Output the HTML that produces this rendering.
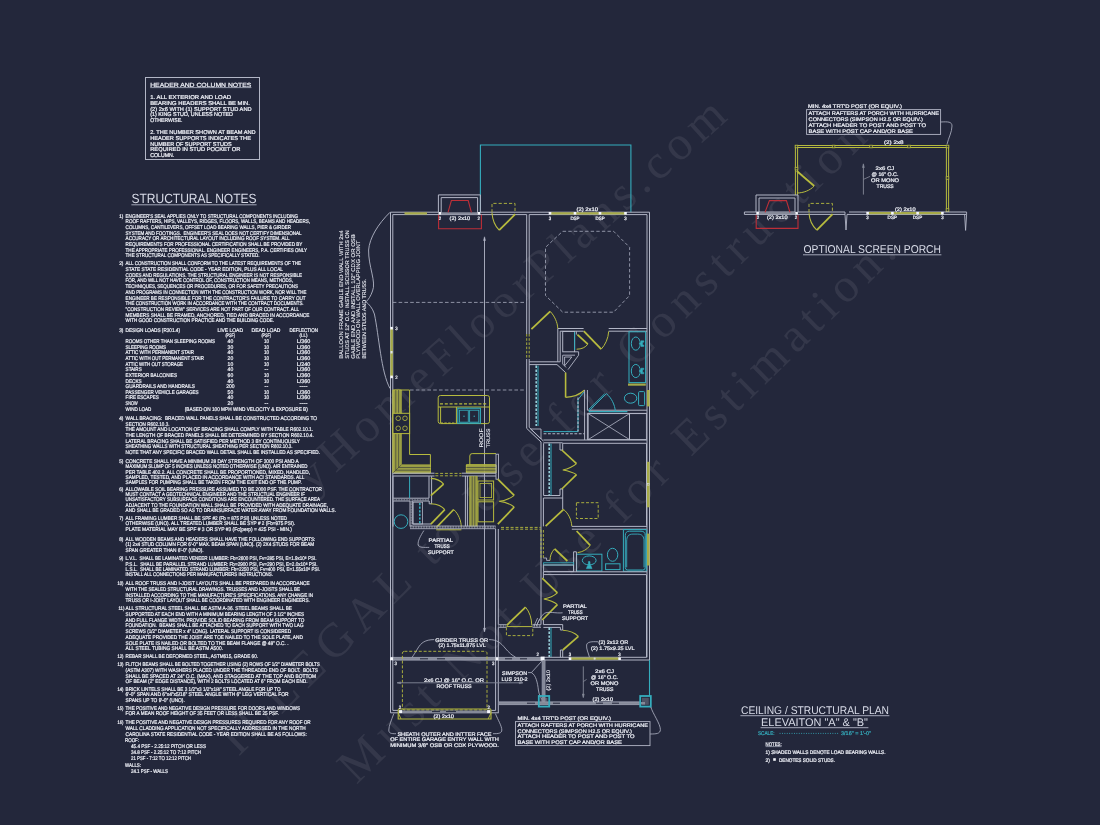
<!DOCTYPE html>
<html lang="en"><head><meta charset="utf-8"><title>Ceiling / Structural Plan</title>
<style>
html,body{margin:0;padding:0;background:#23273b;}
body{width:1100px;height:825px;overflow:hidden;}
svg{display:block;will-change:transform;filter:grayscale(0);}
svg text{font-family:"Liberation Sans",sans-serif;fill:#eef0f7;white-space:pre;text-rendering:geometricPrecision;stroke:#eef0f7;stroke-width:0.22px;}
svg .rot{stroke-width:0.1px;}
svg .big{stroke:none;fill:#d9dce8;}
svg .wm{font-family:"Liberation Serif",serif;fill:#ffffff;stroke:none;}
</style></head><body>
<svg width="1100" height="825" viewBox="0 0 1100 825" fill="none" stroke-linecap="butt">
<rect x="0" y="0" width="1100" height="825" fill="#23273b" stroke="none"/>
<text class="wm" transform="translate(276.3 526.8) rotate(-42.04)" font-size="48" letter-spacing="6.46" fill-opacity="0.078">MyHomeFloorPlans.com</text>
<text class="wm" transform="translate(238.4 756.9) rotate(-44.39)" font-size="48" letter-spacing="7.26" fill-opacity="0.078">ILLEGAL to Use for Construction</text>
<text class="wm" transform="translate(356.5 785) rotate(-44.4)" font-size="48" letter-spacing="7.0" fill-opacity="0.078">Must Not Use for Estimation.</text>
<rect x="145.5" y="77.5" width="114.0" height="82.0" stroke="#b2b6c6" stroke-width="1" fill="none"/>
<text x="150.2" y="87.0" font-size="6" textLength="101.2" lengthAdjust="spacingAndGlyphs">HEADER AND COLUMN NOTES</text>
<line x1="150.2" y1="87.6" x2="251.4" y2="87.6" stroke="#b2b6c6" stroke-width="0.8"/>
<text x="150.2" y="98.9" font-size="5.6" textLength="80.8" lengthAdjust="spacingAndGlyphs">1. ALL EXTERIOR AND LOAD</text>
<text x="150.2" y="104.7" font-size="5.6" textLength="99.8" lengthAdjust="spacingAndGlyphs">BEARING HEADERS SHALL BE MIN.</text>
<text x="150.2" y="110.6" font-size="5.6" textLength="101.4" lengthAdjust="spacingAndGlyphs">(2) 2x6 WITH (1) SUPPORT STUD AND</text>
<text x="150.2" y="116.3" font-size="5.6" textLength="82.8" lengthAdjust="spacingAndGlyphs">(1) KING STUD, UNLESS NOTED</text>
<text x="150.2" y="122.2" font-size="5.6" textLength="32.3" lengthAdjust="spacingAndGlyphs">OTHERWISE.</text>
<text x="150.2" y="134.0" font-size="5.6" textLength="105.5" lengthAdjust="spacingAndGlyphs">2. THE NUMBER SHOWN AT BEAM AND</text>
<text x="150.2" y="139.8" font-size="5.6" textLength="100.8" lengthAdjust="spacingAndGlyphs">HEADER SUPPORTS INDICATES THE</text>
<text x="150.2" y="145.6" font-size="5.6" textLength="81.4" lengthAdjust="spacingAndGlyphs">NUMBER OF SUPPORT STUDS</text>
<text x="150.2" y="151.4" font-size="5.6" textLength="90.3" lengthAdjust="spacingAndGlyphs">REQUIRED IN STUD POCKET OR</text>
<text x="150.2" y="157.2" font-size="5.6" textLength="24.1" lengthAdjust="spacingAndGlyphs">COLUMN.</text>
<text x="131.4" y="203.0" font-size="13.4" textLength="125.2" lengthAdjust="spacingAndGlyphs" class="big">STRUCTURAL NOTES</text>
<line x1="131.4" y1="204.8" x2="256.6" y2="204.8" stroke="#b2b6c6" stroke-width="0.9"/>
<text x="119.2" y="217.5" font-size="5.2" textLength="4.2" lengthAdjust="spacingAndGlyphs">1)</text>
<text x="125.6" y="217.5" font-size="5.4" textLength="172.4" lengthAdjust="spacingAndGlyphs">ENGINEER'S SEAL APPLIES ONLY TO STRUCTURAL COMPONENTS INCLUDING</text>
<text x="125.6" y="223.2" font-size="5.4" textLength="184.4" lengthAdjust="spacingAndGlyphs">ROOF RAFTERS, HIPS, VALLEYS, RIDGES, FLOORS, WALLS, BEAMS AND HEADERS,</text>
<text x="125.6" y="228.9" font-size="5.4" textLength="165.4" lengthAdjust="spacingAndGlyphs">COLUMNS, CANTILEVERS, OFFSET LOAD BEARING WALLS, PIER &amp; GIRDER</text>
<text x="125.6" y="234.6" font-size="5.4" textLength="176.0" lengthAdjust="spacingAndGlyphs">SYSTEM AND FOOTINGS.  ENGINEER'S SEAL DOES NOT CERTIFY DIMENSIONAL</text>
<text x="125.6" y="240.3" font-size="5.4" textLength="164.0" lengthAdjust="spacingAndGlyphs">ACCURACY OR ARCHITECTURAL LAYOUT INCLUDING ROOF SYSTEM. ALL</text>
<text x="125.6" y="246.0" font-size="5.4" textLength="176.8" lengthAdjust="spacingAndGlyphs">REQUIREMENTS FOR PROFESSIONAL CERTIFICATION SHALL BE PROVIDED BY</text>
<text x="125.6" y="251.7" font-size="5.4" textLength="181.4" lengthAdjust="spacingAndGlyphs">THE APPROPRIATE PROFESSIONAL. ENGINEER ENGINEERS, P.A. CERTIFIES ONLY</text>
<text x="125.6" y="257.4" font-size="5.4" textLength="134.0" lengthAdjust="spacingAndGlyphs">THE STRUCTURAL COMPONENTS AS SPECIFICALLY STATED.</text>
<text x="119.2" y="265.3" font-size="5.2" textLength="4.2" lengthAdjust="spacingAndGlyphs">2)</text>
<text x="125.6" y="265.3" font-size="5.4" textLength="175.4" lengthAdjust="spacingAndGlyphs">ALL CONSTRUCTION SHALL CONFORM TO THE LATEST REQUIREMENTS OF THE</text>
<text x="125.6" y="271.0" font-size="5.4" textLength="157.4" lengthAdjust="spacingAndGlyphs">STATE STATE RESIDENTIAL CODE - YEAR EDITION, PLUS ALL LOCAL</text>
<text x="125.6" y="276.7" font-size="5.4" textLength="176.4" lengthAdjust="spacingAndGlyphs">CODES AND REGULATIONS. THE STRUCTURAL ENGINEER IS NOT RESPONSIBLE</text>
<text x="125.6" y="282.4" font-size="5.4" textLength="167.4" lengthAdjust="spacingAndGlyphs">FOR, AND WILL NOT HAVE CONTROL OF, CONSTRUCTION MEANS, METHODS,</text>
<text x="125.6" y="288.1" font-size="5.4" textLength="172.4" lengthAdjust="spacingAndGlyphs">TECHNIQUES, SEQUENCES OR PROCEDURES, OR FOR SAFETY PRECAUTIONS</text>
<text x="125.6" y="293.8" font-size="5.4" textLength="180.8" lengthAdjust="spacingAndGlyphs">AND PROGRAMS IN CONNECTION WITH THE CONSTRUCTION WORK, NOR WILL THE</text>
<text x="125.6" y="299.5" font-size="5.4" textLength="180.0" lengthAdjust="spacingAndGlyphs">ENGINEER BE RESPONSIBLE FOR THE CONTRACTOR'S FAILURE TO CARRY OUT</text>
<text x="125.6" y="305.2" font-size="5.4" textLength="178.0" lengthAdjust="spacingAndGlyphs">THE CONSTRUCTION WORK IN ACCORDANCE WITH THE CONTRACT DOCUMENTS.</text>
<text x="125.6" y="310.9" font-size="5.4" textLength="173.4" lengthAdjust="spacingAndGlyphs">"CONSTRUCTION REVIEW" SERVICES ARE NOT PART OF OUR CONTRACT. ALL</text>
<text x="125.6" y="316.6" font-size="5.4" textLength="183.8" lengthAdjust="spacingAndGlyphs">MEMBERS SHALL BE FRAMED, ANCHORED, TIED AND BRACED IN ACCORDANCE</text>
<text x="125.6" y="322.4" font-size="5.4" textLength="148.4" lengthAdjust="spacingAndGlyphs">WITH GOOD CONSTRUCTION PRACTICE AND THE BUILDING CODE.</text>
<text x="119.2" y="331.5" font-size="5.2" textLength="4.2" lengthAdjust="spacingAndGlyphs">3)</text>
<text x="125.6" y="331.5" font-size="5.4" textLength="54.4" lengthAdjust="spacingAndGlyphs">DESIGN LOADS (R301.4)</text>
<text x="217.4" y="331.5" font-size="5.4" textLength="25.6" lengthAdjust="spacingAndGlyphs">LIVE LOAD</text>
<text x="251.6" y="331.5" font-size="5.4" textLength="28.8" lengthAdjust="spacingAndGlyphs">DEAD LOAD</text>
<text x="289.4" y="331.5" font-size="5.4" textLength="28.6" lengthAdjust="spacingAndGlyphs">DEFLECTION</text>
<text x="225.4" y="336.6" font-size="5.0" textLength="9.6" lengthAdjust="spacingAndGlyphs">(PSF)</text>
<text x="261.4" y="336.6" font-size="5.0" textLength="9.6" lengthAdjust="spacingAndGlyphs">(PSF)</text>
<text x="299.6" y="336.6" font-size="5.0" textLength="8.0" lengthAdjust="spacingAndGlyphs">(LL)</text>
<text x="125.6" y="343.1" font-size="5.4" textLength="89.4" lengthAdjust="spacingAndGlyphs">ROOMS OTHER THAN SLEEPING ROOMS</text>
<text x="227.6" y="343.1" font-size="5.4" textLength="5.6" lengthAdjust="spacingAndGlyphs">40</text>
<text x="263.9" y="343.1" font-size="5.4" textLength="5.0" lengthAdjust="spacingAndGlyphs">10</text>
<text x="296.7" y="343.1" font-size="5.4" textLength="13.6" lengthAdjust="spacingAndGlyphs">L/360</text>
<text x="125.6" y="348.8" font-size="5.4" textLength="40.4" lengthAdjust="spacingAndGlyphs">SLEEPING ROOMS</text>
<text x="227.6" y="348.8" font-size="5.4" textLength="5.6" lengthAdjust="spacingAndGlyphs">30</text>
<text x="263.9" y="348.8" font-size="5.4" textLength="5.0" lengthAdjust="spacingAndGlyphs">10</text>
<text x="296.7" y="348.8" font-size="5.4" textLength="13.6" lengthAdjust="spacingAndGlyphs">L/360</text>
<text x="125.6" y="354.4" font-size="5.4" textLength="68.4" lengthAdjust="spacingAndGlyphs">ATTIC WITH PERMANENT STAIR</text>
<text x="227.6" y="354.4" font-size="5.4" textLength="5.6" lengthAdjust="spacingAndGlyphs">40</text>
<text x="263.9" y="354.4" font-size="5.4" textLength="5.0" lengthAdjust="spacingAndGlyphs">10</text>
<text x="296.7" y="354.4" font-size="5.4" textLength="13.6" lengthAdjust="spacingAndGlyphs">L/360</text>
<text x="125.6" y="360.0" font-size="5.4" textLength="78.4" lengthAdjust="spacingAndGlyphs">ATTIC WITH OUT PERMANENT STAIR</text>
<text x="227.6" y="360.0" font-size="5.4" textLength="5.6" lengthAdjust="spacingAndGlyphs">20</text>
<text x="263.9" y="360.0" font-size="5.4" textLength="5.0" lengthAdjust="spacingAndGlyphs">10</text>
<text x="296.7" y="360.0" font-size="5.4" textLength="13.6" lengthAdjust="spacingAndGlyphs">L/360</text>
<text x="125.6" y="365.7" font-size="5.4" textLength="57.4" lengthAdjust="spacingAndGlyphs">ATTIC WITH OUT STORAGE</text>
<text x="227.6" y="365.7" font-size="5.4" textLength="5.6" lengthAdjust="spacingAndGlyphs">10</text>
<text x="263.9" y="365.7" font-size="5.4" textLength="5.0" lengthAdjust="spacingAndGlyphs">10</text>
<text x="296.7" y="365.7" font-size="5.4" textLength="13.6" lengthAdjust="spacingAndGlyphs">L/240</text>
<text x="125.6" y="371.3" font-size="5.4" textLength="16.1" lengthAdjust="spacingAndGlyphs">STAIRS</text>
<text x="227.6" y="371.3" font-size="5.4" textLength="5.6" lengthAdjust="spacingAndGlyphs">40</text>
<text x="264.6" y="371.3" font-size="5.4" textLength="3.6" lengthAdjust="spacingAndGlyphs">--</text>
<text x="296.7" y="371.3" font-size="5.4" textLength="13.6" lengthAdjust="spacingAndGlyphs">L/360</text>
<text x="125.6" y="376.9" font-size="5.4" textLength="51.4" lengthAdjust="spacingAndGlyphs">EXTERIOR BALCONIES</text>
<text x="227.6" y="376.9" font-size="5.4" textLength="5.6" lengthAdjust="spacingAndGlyphs">60</text>
<text x="263.9" y="376.9" font-size="5.4" textLength="5.0" lengthAdjust="spacingAndGlyphs">10</text>
<text x="296.7" y="376.9" font-size="5.4" textLength="13.6" lengthAdjust="spacingAndGlyphs">L/360</text>
<text x="125.6" y="382.6" font-size="5.4" textLength="16.1" lengthAdjust="spacingAndGlyphs">DECKS</text>
<text x="227.6" y="382.6" font-size="5.4" textLength="5.6" lengthAdjust="spacingAndGlyphs">40</text>
<text x="263.9" y="382.6" font-size="5.4" textLength="5.0" lengthAdjust="spacingAndGlyphs">10</text>
<text x="296.7" y="382.6" font-size="5.4" textLength="13.6" lengthAdjust="spacingAndGlyphs">L/360</text>
<text x="125.6" y="388.2" font-size="5.4" textLength="69.4" lengthAdjust="spacingAndGlyphs">GUARDRAILS AND HANDRAILS</text>
<text x="226.2" y="388.2" font-size="5.4" textLength="8.4" lengthAdjust="spacingAndGlyphs">200</text>
<text x="264.6" y="388.2" font-size="5.4" textLength="3.6" lengthAdjust="spacingAndGlyphs">--</text>
<text x="299.5" y="388.2" font-size="5.4" textLength="8.0" lengthAdjust="spacingAndGlyphs">----</text>
<text x="125.6" y="393.8" font-size="5.4" textLength="73.1" lengthAdjust="spacingAndGlyphs">PASSENGER VEHICLE GARAGES</text>
<text x="227.6" y="393.8" font-size="5.4" textLength="5.6" lengthAdjust="spacingAndGlyphs">50</text>
<text x="263.9" y="393.8" font-size="5.4" textLength="5.0" lengthAdjust="spacingAndGlyphs">10</text>
<text x="296.7" y="393.8" font-size="5.4" textLength="13.6" lengthAdjust="spacingAndGlyphs">L/360</text>
<text x="125.6" y="399.4" font-size="5.4" textLength="33.2" lengthAdjust="spacingAndGlyphs">FIRE ESCAPES</text>
<text x="227.6" y="399.4" font-size="5.4" textLength="5.6" lengthAdjust="spacingAndGlyphs">40</text>
<text x="263.9" y="399.4" font-size="5.4" textLength="5.0" lengthAdjust="spacingAndGlyphs">10</text>
<text x="296.7" y="399.4" font-size="5.4" textLength="13.6" lengthAdjust="spacingAndGlyphs">L/360</text>
<text x="125.6" y="405.1" font-size="5.4" textLength="12.0" lengthAdjust="spacingAndGlyphs">SNOW</text>
<text x="227.6" y="405.1" font-size="5.4" textLength="5.6" lengthAdjust="spacingAndGlyphs">20</text>
<text x="264.6" y="405.1" font-size="5.4" textLength="3.6" lengthAdjust="spacingAndGlyphs">--</text>
<text x="299.5" y="405.1" font-size="5.4" textLength="8.0" lengthAdjust="spacingAndGlyphs">----</text>
<text x="125.6" y="410.7" font-size="5.4" textLength="25.7" lengthAdjust="spacingAndGlyphs">WIND LOAD</text>
<text x="184.8" y="410.7" font-size="5.4" textLength="123.0" lengthAdjust="spacingAndGlyphs">(BASED ON 100 MPH WIND VELOCITY &amp; EXPOSURE B)</text>
<text x="119.2" y="419.9" font-size="5.2" textLength="4.2" lengthAdjust="spacingAndGlyphs">4)</text>
<text x="125.6" y="419.9" font-size="5.4" textLength="191.4" lengthAdjust="spacingAndGlyphs">WALL BRACING:  BRACED WALL PANELS SHALL BE CONSTRUCTED ACCORDING TO</text>
<text x="125.6" y="425.6" font-size="5.4" textLength="43.9" lengthAdjust="spacingAndGlyphs">SECTION R602.10.3.</text>
<text x="125.6" y="431.3" font-size="5.4" textLength="187.4" lengthAdjust="spacingAndGlyphs">THE AMOUNT AND LOCATION OF BRACING SHALL COMPLY WITH TABLE R602.10.1.</text>
<text x="125.6" y="437.0" font-size="5.4" textLength="188.2" lengthAdjust="spacingAndGlyphs">THE LENGTH OF BRACED PANELS SHALL BE DETERMINED BY SECTION R602.10.4.</text>
<text x="125.6" y="442.7" font-size="5.4" textLength="174.4" lengthAdjust="spacingAndGlyphs">LATERAL BRACING SHALL BE SATISFIED PER METHOD 3 BY CONTINUOUSLY</text>
<text x="125.6" y="448.4" font-size="5.4" textLength="167.0" lengthAdjust="spacingAndGlyphs">SHEATHING WALLS WITH STRUCTURAL SHEATHING PER SECTION R602.10.3.</text>
<text x="125.6" y="454.1" font-size="5.4" textLength="194.4" lengthAdjust="spacingAndGlyphs">NOTE THAT ANY SPECIFIC BRACED WALL DETAIL SHALL BE INSTALLED AS SPECIFIED.</text>
<text x="119.2" y="462.7" font-size="5.2" textLength="4.2" lengthAdjust="spacingAndGlyphs">5)</text>
<text x="125.6" y="462.7" font-size="5.4" textLength="173.1" lengthAdjust="spacingAndGlyphs">CONCRETE SHALL HAVE A MINIMUM 28 DAY STRENGTH OF 3000 PSI AND A</text>
<text x="125.6" y="468.2" font-size="5.4" textLength="181.8" lengthAdjust="spacingAndGlyphs">MAXIMUM SLUMP OF 5 INCHES UNLESS NOTED OTHERWISE (UNO). AIR ENTRAINED</text>
<text x="125.6" y="473.6" font-size="5.4" textLength="184.4" lengthAdjust="spacingAndGlyphs">PER TABLE 402.2. ALL CONCRETE SHALL BE PROPORTIONED, MIXED, HANDLED,</text>
<text x="125.6" y="479.0" font-size="5.4" textLength="178.8" lengthAdjust="spacingAndGlyphs">SAMPLED, TESTED, AND PLACED IN ACCORDANCE WITH ACI STANDARDS. ALL</text>
<text x="125.6" y="484.4" font-size="5.4" textLength="176.1" lengthAdjust="spacingAndGlyphs">SAMPLES FOR PUMPING SHALL BE TAKEN FROM THE EXIT END OF THE PUMP.</text>
<text x="119.2" y="491.0" font-size="5.2" textLength="4.2" lengthAdjust="spacingAndGlyphs">6)</text>
<text x="125.6" y="491.0" font-size="5.4" textLength="196.4" lengthAdjust="spacingAndGlyphs">ALLOWABLE SOIL BEARING PRESSURE ASSUMED TO BE 2000 PSF. THE CONTRACTOR</text>
<text x="125.6" y="496.2" font-size="5.4" textLength="179.4" lengthAdjust="spacingAndGlyphs">MUST CONTACT A GEOTECHNICAL ENGINEER AND THE STRUCTUAL ENGINEER IF</text>
<text x="125.6" y="501.4" font-size="5.4" textLength="194.4" lengthAdjust="spacingAndGlyphs">UNSATISFACTORY SUBSURFACE CONDITIONS ARE ENCOUNTERED. THE SURFACE AREA</text>
<text x="125.6" y="506.6" font-size="5.4" textLength="202.4" lengthAdjust="spacingAndGlyphs">ADJACENT TO THE FOUNDATION WALL SHALL BE PROVIDED WITH ADEQUATE DRAINAGE,</text>
<text x="125.6" y="511.8" font-size="5.4" textLength="210.4" lengthAdjust="spacingAndGlyphs">AND SHALL BE GRADED SO AS TO DRAINSURFACE WATER AWAY FROM FOUNDATION WALLS.</text>
<text x="119.2" y="519.9" font-size="5.2" textLength="4.2" lengthAdjust="spacingAndGlyphs">7)</text>
<text x="125.6" y="519.9" font-size="5.4" textLength="161.4" lengthAdjust="spacingAndGlyphs">ALL FRAMING LUMBER SHALL BE SPF #2 (Fb = 875 PSI) UNLESS NOTED</text>
<text x="125.6" y="525.4" font-size="5.4" textLength="169.4" lengthAdjust="spacingAndGlyphs">OTHERWISE (UNO). ALL TREATED LUMBER SHALL BE SYP # 2 (Fb=975 PSI).</text>
<text x="125.6" y="530.9" font-size="5.4" textLength="166.4" lengthAdjust="spacingAndGlyphs">PLATE MATERIAL MAY BE SPF # 3 OR SYP #3 (Fc(perp) = 425 PSI - MIN.)</text>
<text x="119.2" y="540.9" font-size="5.2" textLength="4.2" lengthAdjust="spacingAndGlyphs">8)</text>
<text x="125.6" y="540.9" font-size="5.4" textLength="189.8" lengthAdjust="spacingAndGlyphs">ALL WOODEN BEAMS AND HEADERS SHALL HAVE THE FOLLOWING END SUPPORTS:</text>
<text x="125.6" y="546.4" font-size="5.4" textLength="188.6" lengthAdjust="spacingAndGlyphs">(1) 2x4 STUD COLUMN FOR 6'-0" MAX. BEAM SPAN (UNO). (2) 2X4 STUDS FOR BEAM</text>
<text x="125.6" y="551.9" font-size="5.4" textLength="78.1" lengthAdjust="spacingAndGlyphs">SPAN GREATER THAN 6'-0" (UNO).</text>
<text x="119.2" y="560.1" font-size="5.2" textLength="4.2" lengthAdjust="spacingAndGlyphs">9)</text>
<text x="125.6" y="560.1" font-size="5.4" textLength="190.9" lengthAdjust="spacingAndGlyphs">L.V.L.  SHALL BE LAMINATED VENEER LUMBER: Fb=2600 PSI, Fv=285 PSI, E=1.9x10⁶ PSI.</text>
<text x="125.6" y="565.5" font-size="5.4" textLength="192.0" lengthAdjust="spacingAndGlyphs">P.S.L.  SHALL BE PARALLEL STRAND LUMBER: Fb=2900 PSI, Fv=290 PSI, E=2.0x10⁶ PSI.</text>
<text x="125.6" y="570.8" font-size="5.4" textLength="194.4" lengthAdjust="spacingAndGlyphs">L.S.L.  SHALL BE LAMINATED STRAND LUMBER: Fb=2250 PSI, Fv=400 PSI, E=1.55x10⁶ PSI.</text>
<text x="125.6" y="576.2" font-size="5.4" textLength="147.4" lengthAdjust="spacingAndGlyphs">INSTALL ALL CONNECTIONS PER MANUFACTURERS INSTRUCTIONS.</text>
<text x="117.4" y="585.1" font-size="5.2" textLength="6.0" lengthAdjust="spacingAndGlyphs">10)</text>
<text x="125.6" y="585.1" font-size="5.4" textLength="184.1" lengthAdjust="spacingAndGlyphs">ALL ROOF TRUSS AND I-JOIST LAYOUTS SHALL BE PREPARED IN ACCORDANCE</text>
<text x="125.6" y="590.8" font-size="5.4" textLength="174.4" lengthAdjust="spacingAndGlyphs">WITH THE SEALED STRUCTURAL DRAWINGS. TRUSSES AND I-JOISTS SHALL BE</text>
<text x="125.6" y="596.5" font-size="5.4" textLength="187.4" lengthAdjust="spacingAndGlyphs">INSTALLED ACCORDING TO THE MANUFACTURE'S SPECIFICATIONS. ANY CHANGE IN</text>
<text x="125.6" y="602.2" font-size="5.4" textLength="184.1" lengthAdjust="spacingAndGlyphs">TRUSS OR I-JOIST LAYOUT SHALL BE COORDINATED WITH ENGINEER ENGINEERS.</text>
<text x="118.4" y="610.2" font-size="5.2" textLength="6.0" lengthAdjust="spacingAndGlyphs">11)</text>
<text x="125.6" y="610.2" font-size="5.4" textLength="166.4" lengthAdjust="spacingAndGlyphs">ALL STRUCTURAL STEEL SHALL BE ASTM A-36. STEEL BEAMS SHALL BE</text>
<text x="125.6" y="615.9" font-size="5.4" textLength="178.4" lengthAdjust="spacingAndGlyphs">SUPPORTED AT EACH END WITH A MINIMUM BEARING LENGTH OF 3 1/2" INCHES</text>
<text x="125.6" y="621.6" font-size="5.4" textLength="178.8" lengthAdjust="spacingAndGlyphs">AND FULL FLANGE WIDTH. PROVIDE SOLID BEARING FROM BEAM SUPPORT TO</text>
<text x="125.6" y="627.3" font-size="5.4" textLength="177.9" lengthAdjust="spacingAndGlyphs">FOUNDATION.  BEAMS SHALL BE ATTACHED TO EACH SUPPORT WITH TWO LAG</text>
<text x="125.6" y="633.0" font-size="5.4" textLength="165.4" lengthAdjust="spacingAndGlyphs">SCREWS (1/2" DIAMETER x 4" LONG). LATERAL SUPPORT IS CONSIDERED</text>
<text x="125.6" y="638.7" font-size="5.4" textLength="177.2" lengthAdjust="spacingAndGlyphs">ADEQUATE PROVIDED THE JOIST ARE TOE NAILED TO THE SOLE PLATE, AND</text>
<text x="125.6" y="644.6" font-size="5.4" textLength="162.9" lengthAdjust="spacingAndGlyphs">SOLE PLATE IS NAILED OR BOLTED TO THE BEAM FLANGE @ 48" O.C. .</text>
<text x="125.6" y="650.2" font-size="5.4" textLength="97.4" lengthAdjust="spacingAndGlyphs">ALL STEEL TUBING SHALL BE ASTM A500.</text>
<text x="117.4" y="658.2" font-size="5.2" textLength="6.0" lengthAdjust="spacingAndGlyphs">12)</text>
<text x="125.6" y="658.2" font-size="5.4" textLength="132.4" lengthAdjust="spacingAndGlyphs">REBAR SHALL BE DEFORMED STEEL, ASTM615, GRADE 60.</text>
<text x="117.4" y="665.8" font-size="5.2" textLength="6.0" lengthAdjust="spacingAndGlyphs">13)</text>
<text x="125.6" y="665.8" font-size="5.4" textLength="194.2" lengthAdjust="spacingAndGlyphs">FLITCH BEAMS SHALL BE BOLTED TOGETHER USING (2) ROWS OF 1/2" DIAMETER BOLTS</text>
<text x="125.6" y="671.7" font-size="5.4" textLength="192.4" lengthAdjust="spacingAndGlyphs">(ASTM A307) WITH WASHERS PLACED UNDER THE THREADED END OF BOLT.  BOLTS</text>
<text x="125.6" y="677.5" font-size="5.4" textLength="190.4" lengthAdjust="spacingAndGlyphs">SHALL BE SPACED AT 24" O.C. (MAX), AND STAGGERED AT THE TOP AND BOTTOM</text>
<text x="125.6" y="683.3" font-size="5.4" textLength="181.9" lengthAdjust="spacingAndGlyphs">OF BEAM (2" EDGE DISTANCE), WITH 2 BOLTS LOCATED AT 6" FROM EACH END.</text>
<text x="117.4" y="690.5" font-size="5.2" textLength="6.0" lengthAdjust="spacingAndGlyphs">14)</text>
<text x="125.6" y="690.5" font-size="5.4" textLength="155.1" lengthAdjust="spacingAndGlyphs">BRICK LINTELS SHALL BE 3 1/2"x3 1/2"x1/4" STEEL ANGLE FOR UP TO</text>
<text x="125.6" y="696.3" font-size="5.4" textLength="163.0" lengthAdjust="spacingAndGlyphs">6'-0" SPAN AND 6"x4"x5/16" STEEL ANGLE WITH 6" LEG VERTICAL FOR</text>
<text x="125.6" y="702.1" font-size="5.4" textLength="59.2" lengthAdjust="spacingAndGlyphs">SPANS UP TO 9'-0" (UNO).</text>
<text x="117.4" y="709.6" font-size="5.2" textLength="6.0" lengthAdjust="spacingAndGlyphs">15)</text>
<text x="125.6" y="709.6" font-size="5.4" textLength="174.4" lengthAdjust="spacingAndGlyphs">THE POSITIVE AND NEGATIVE DESIGN PRESSURE FOR DOORS AND WINDOWS</text>
<text x="125.6" y="715.1" font-size="5.4" textLength="153.3" lengthAdjust="spacingAndGlyphs">FOR A MEAN ROOF HEIGHT OF 35 FEET OR LESS SHALL BE 25 PSF.</text>
<text x="117.4" y="724.2" font-size="5.2" textLength="6.0" lengthAdjust="spacingAndGlyphs">16)</text>
<text x="125.6" y="724.2" font-size="5.4" textLength="185.1" lengthAdjust="spacingAndGlyphs">THE POSITIVE AND NEGATIVE DESIGN PRESSURES REQUIRED FOR ANY ROOF OR</text>
<text x="125.6" y="729.9" font-size="5.4" textLength="180.1" lengthAdjust="spacingAndGlyphs">WALL CLADDING APPLICATION NOT SPECIFICALLY ADDRESSED IN THE NORTH</text>
<text x="125.6" y="735.5" font-size="5.4" textLength="181.2" lengthAdjust="spacingAndGlyphs">CAROLINA STATE RESIDENTIAL CODE - YEAR EDITION SHALL BE AS FOLLOWS:</text>
<text x="125.0" y="742.1" font-size="5.4" textLength="14.0" lengthAdjust="spacingAndGlyphs">ROOF:</text>
<text x="131.0" y="748.0" font-size="5.4" textLength="75.0" lengthAdjust="spacingAndGlyphs">45.4 PSF - 2.25:12 PITCH OR LESS</text>
<text x="131.0" y="753.9" font-size="5.4" textLength="70.0" lengthAdjust="spacingAndGlyphs">34.8 PSF - 2.25:12 TO 7:12 PITCH</text>
<text x="131.0" y="759.9" font-size="5.4" textLength="60.0" lengthAdjust="spacingAndGlyphs">21 PSF - 7:12 TO 12:12 PITCH</text>
<text x="125.0" y="766.9" font-size="5.4" textLength="16.0" lengthAdjust="spacingAndGlyphs">WALLS:</text>
<text x="131.0" y="772.9" font-size="5.4" textLength="37.0" lengthAdjust="spacingAndGlyphs">24.1 PSF - WALLS</text>
<path d="M480.4 212.6 V145 H630.9 V212.2" stroke="#35adbd" stroke-width="1.1" fill="none"/>
<path d="M390.5 712.8 V212.2 H438.4 M480.4 212.2 H649.5 V660" stroke="#b2b6c6" stroke-width="1" fill="none"/>
<path d="M392.8 710.4 V214.6 H526.7 M529.2 214.6 H647 V657.3" stroke="#b2b6c6" stroke-width="1" fill="none"/>
<path d="M390 212.3 C378 224 369.5 238 368.6 250 C368.2 266 376.5 282 372.5 291 C370.8 296 368.5 299.5 366 301.8 C368.8 304 372.5 308 374.4 314 C379 336 381 372 390 388.5" stroke="#b2b6c6" stroke-width="0.9" fill="none"/>
<text transform="translate(343.2 358.8) rotate(-90)" class="rot" font-size="5.4" textLength="128.5" lengthAdjust="spacingAndGlyphs">BALLOON FRAME GABLE END WALL WITH 2x4</text>
<text transform="translate(348.9 358.8) rotate(-90)" class="rot" font-size="5.4" textLength="128.5" lengthAdjust="spacingAndGlyphs">STUDS AT 12" O.C. INSTALL SCISSOR TRUSS ON</text>
<text transform="translate(354.7 358.8) rotate(-90)" class="rot" font-size="5.4" textLength="124.6" lengthAdjust="spacingAndGlyphs">GABLE END AND INSTALL 1/2" CDX OR OSB</text>
<text transform="translate(360.4 358.8) rotate(-90)" class="rot" font-size="5.4" textLength="118.1" lengthAdjust="spacingAndGlyphs">PLYWOOD ON WALL OVERLAPPING JOINT</text>
<text transform="translate(366.1 358.8) rotate(-90)" class="rot" font-size="5.4" textLength="80.0" lengthAdjust="spacingAndGlyphs">BETWEEN STUDS AND TRUSS.</text>
<path d="M438.4 212.2 V194.9 H480.4 V212.2" stroke="#b2b6c6" stroke-width="1" fill="none"/>
<path d="M441.2 213.4 V197.6 H477.6 V213.4" stroke="#b2b6c6" stroke-width="1" fill="none"/>
<line x1="441.2" y1="213.4" x2="477.6" y2="213.4" stroke="#858998" stroke-width="2.2"/>
<path d="M448 212.4 L451.4 200.5 H468.2 L471.4 212.4" stroke="#bd2f38" stroke-width="1.1" fill="none"/>
<path d="M438.6 214.8 V228.7 H481.4 V214.8" stroke="#bd2f38" stroke-width="1.1" fill="none"/>
<rect x="438.5" y="212.0" width="2.6" height="2.6" fill="#f4f6fb" stroke="none"/>
<rect x="477.7" y="212.0" width="2.6" height="2.6" fill="#f4f6fb" stroke="none"/>
<text x="438.8" y="220.3" font-size="4.8" textLength="2.4" lengthAdjust="spacingAndGlyphs">2</text>
<text x="477.4" y="220.3" font-size="4.8" textLength="2.4" lengthAdjust="spacingAndGlyphs">2</text>
<text x="449.6" y="220.2" font-size="5.2" textLength="20.6" lengthAdjust="spacingAndGlyphs">(2) 2x10</text>
<line x1="404.5" y1="213.4" x2="427" y2="213.4" stroke="#a6aa48" stroke-width="2.2"/>
<path d="M492 212.4 V203.4 H515 V212.4" stroke="#b7bb3e" stroke-width="0.9" fill="none" stroke-dasharray="3.2 2"/>
<path d="M492 213 C492.5 220 495 226 499.2 230.2" stroke="#b7bb3e" stroke-width="1.1" fill="none"/>
<line x1="499.2" y1="230.2" x2="515.2" y2="214.2" stroke="#b7bb3e" stroke-width="1.8"/>
<line x1="550" y1="213.4" x2="625.5" y2="213.4" stroke="#a6aa48" stroke-width="2.2"/>
<rect x="548.7" y="212.0" width="2.6" height="2.6" fill="#f4f6fb" stroke="none"/>
<rect x="573.7" y="212.0" width="2.6" height="2.6" fill="#f4f6fb" stroke="none"/>
<rect x="598.7" y="212.0" width="2.6" height="2.6" fill="#f4f6fb" stroke="none"/>
<rect x="624.2" y="212.0" width="2.6" height="2.6" fill="#f4f6fb" stroke="none"/>
<text x="576.5" y="210.7" font-size="5.2" textLength="21.5" lengthAdjust="spacingAndGlyphs">(2) 2x10</text>
<text x="548.8" y="220.1" font-size="4.8" textLength="2.4" lengthAdjust="spacingAndGlyphs">3</text>
<text x="624.3" y="220.1" font-size="4.8" textLength="2.4" lengthAdjust="spacingAndGlyphs">3</text>
<text x="570.4" y="220.1" font-size="4.8" textLength="9.2" lengthAdjust="spacingAndGlyphs">DSP</text>
<text x="595.6" y="220.1" font-size="4.8" textLength="9.2" lengthAdjust="spacingAndGlyphs">DSP</text>
<path d="M526.7 214.6 V334 M526.7 359 V428.4 L541 442 V624.6 M529.2 214.6 V334 M529.2 359 V364.6 M529.2 364.6 V427.4 L543.4 441" stroke="#b2b6c6" stroke-width="1" fill="none"/>
<path d="M562.7 231.3 H613.6 L629.6 247.3 V295.5 L613.6 312.2 H562.7 L545.5 295.5 V247.3 Z" stroke="#9a9eb0" stroke-width="0.9" fill="none" stroke-dasharray="3.4 2.2"/>
<line x1="392.8" y1="302.4" x2="526.7" y2="302.4" stroke="#9a9eb0" stroke-width="0.9" stroke-dasharray="3.6 2.2"/>
<line x1="410" y1="390" x2="526.7" y2="390" stroke="#9a9eb0" stroke-width="0.9" stroke-dasharray="3.6 2.2"/>
<line x1="484.5" y1="238" x2="484.5" y2="631" stroke="#b2b6c6" stroke-width="0.9"/>
<path d="M483.6 240.5 L484.5 236.8 L485.4 240.5 Z M483.6 628.2 L484.5 632 L485.4 628.2 Z" stroke="#b2b6c6" stroke-width="0.6" fill="#b2b6c6"/>
<text transform="translate(483.2 447.4) rotate(-90)" class="rot" font-size="5.2" textLength="18.8" lengthAdjust="spacingAndGlyphs">ROOF</text>
<text transform="translate(490.2 447.4) rotate(-90)" class="rot" font-size="5.2" textLength="18.8" lengthAdjust="spacingAndGlyphs">TRUSS</text>
<line x1="391.6" y1="328.2" x2="391.6" y2="376.9" stroke="#a6aa48" stroke-width="2.4"/>
<rect x="390.3" y="326.9" width="2.6" height="2.6" fill="#f4f6fb" stroke="none"/>
<rect x="390.3" y="375.6" width="2.6" height="2.6" fill="#f4f6fb" stroke="none"/>
<rect x="390.8" y="351.6" width="1.6" height="1.6" stroke="#dfe3ee" stroke-width="0.5"/>
<text x="395.3" y="329.9" font-size="4.8" textLength="2.4" lengthAdjust="spacingAndGlyphs">3</text>
<text x="395.3" y="378.7" font-size="4.8" textLength="2.4" lengthAdjust="spacingAndGlyphs">2</text>
<path d="M393 390 H409.6 V454.5 H430.4 V473 H393 Z" stroke="#b7bb3e" stroke-width="1" fill="none"/>
<path d="M393 390 H401.4 V464.8 H430.4 V473 H393 Z" stroke="#b7bb3e" stroke-width="0.6" fill="#a6aa48" fill-opacity="0.9"/>
<path d="M395.8 390 V470.2 H430.4 M398.6 390 V467.5 H430.4" stroke="#23273b" stroke-width="0.55" fill="none"/>
<path d="M393 473 L401.4 464.8" stroke="#23273b" stroke-width="0.5" fill="none"/>
<rect x="393" y="413.3" width="16.6" height="20.3" stroke="#b7bb3e" stroke-width="1" fill="#23273b"/>
<circle cx="398.2" cy="418.3" r="2.3" stroke="#b7bb3e" stroke-width="0.8"/>
<circle cx="405" cy="418.3" r="2.3" stroke="#b7bb3e" stroke-width="0.8"/>
<circle cx="398.2" cy="428.3" r="2.3" stroke="#b7bb3e" stroke-width="0.8"/>
<circle cx="405" cy="428.3" r="2.3" stroke="#b7bb3e" stroke-width="0.8"/>
<rect x="438.2" y="395.5" width="51.3" height="28.1" rx="2.2" stroke="#b7bb3e" stroke-width="1"/>
<line x1="440" y1="403.8" x2="488" y2="403.8" stroke="#b7bb3e" stroke-width="1.3" stroke-dasharray="3 1.8"/>
<line x1="438.2" y1="407" x2="489.5" y2="407" stroke="#b7bb3e" stroke-width="1"/>
<path d="M440.6 407 V423 M456.4 407 V423" stroke="#b7bb3e" stroke-width="1" fill="none"/>
<line x1="440.6" y1="423" x2="456.4" y2="423" stroke="#b7bb3e" stroke-width="1" stroke-dasharray="2.4 1.4"/>
<rect x="457.8" y="408.2" width="22.6" height="15.1" stroke="#35adbd" stroke-width="1.1" fill="none"/>
<rect x="459.4" y="410.2" width="8.9" height="12.0" stroke="#35adbd" stroke-width="0.9" fill="none"/>
<rect x="469.6" y="410.2" width="9.2" height="12.0" stroke="#35adbd" stroke-width="0.9" fill="none"/>
<circle cx="464" cy="416.2" r="0.7" fill="#35adbd"/><circle cx="474.2" cy="416.2" r="0.7" fill="#35adbd"/>
<path d="M469.8 464.6 V456 Q469.8 453.6 472.2 453.6 H496" stroke="#b7bb3e" stroke-width="1" fill="none"/>
<path d="M466.4 473 V464.8 H496 V473" stroke="#b7bb3e" stroke-width="1" fill="none"/>
<path d="M466.4 464.8 H496 V473 H466.4 Z" stroke="#b7bb3e" stroke-width="0.6" fill="#a6aa48" fill-opacity="0.9"/>
<path d="M466.4 467.5 H496 M466.4 470.2 H496" stroke="#23273b" stroke-width="0.55" fill="none"/>
<rect x="496" y="454.2" width="2.5" height="25.0" stroke="#b2b6c6" stroke-width="0.9" fill="none"/>
<path d="M392.8 473.2 H434.5 M461.8 473.2 H496 M392.8 476 H434.5 M461.8 476 H496" stroke="#b2b6c6" stroke-width="1" fill="none"/>
<path d="M435.3 473.4 H461.4 M435.3 475.8 H461.4" stroke="#b7bb3e" stroke-width="0.9" fill="none" stroke-dasharray="3 1.8"/>
<path d="M393 476.2 V526.6 M409.8 498.2 H429 V476.2 M431.6 476.2 V498 M393 498.2 H409.8 M393 501 H410 V526.5 M412.4 501 V524 H431 M412.4 501 H429.2 V503.8 H431.6 V498" stroke="#b2b6c6" stroke-width="1" fill="none"/>
<line x1="409.6" y1="476.4" x2="409.6" y2="498" stroke="#35adbd" stroke-width="1"/>
<line x1="393" y1="499.6" x2="429" y2="499.6" stroke="#858998" stroke-width="2.4" stroke-dasharray="0.8 0.8"/>
<line x1="411.2" y1="501" x2="411.2" y2="526" stroke="#858998" stroke-width="2.2" stroke-dasharray="0.8 0.8"/>
<rect x="413.2" y="502.2" width="9.4" height="21.8" stroke="#b2b6c6" stroke-width="0.8" fill="none"/>
<line x1="419.8" y1="503" x2="419.8" y2="524" stroke="#35adbd" stroke-width="1.6" stroke-dasharray="2.2 1.4"/>
<circle cx="401" cy="521.6" r="6.8" stroke="#35adbd" stroke-width="1"/>
<path d="M430.8 478.4 C436.5 478.8 441 481 443.6 484.2" stroke="#b7bb3e" stroke-width="1.1" fill="none"/>
<line x1="443.6" y1="484.2" x2="430.8" y2="495.6" stroke="#b7bb3e" stroke-width="1.7"/>
<path d="M430.8 503.8 C437 504.2 442 506 444.8 509.6" stroke="#b7bb3e" stroke-width="1.1" fill="none"/>
<line x1="444.8" y1="509.6" x2="430.8" y2="524.2" stroke="#b7bb3e" stroke-width="1.7"/>
<line x1="436.2" y1="527.6" x2="453.7" y2="509.5" stroke="#b7bb3e" stroke-width="1.7"/>
<path d="M453.7 509.5 C458.4 514 461 520 461.4 527.4 M436.2 529.8 H461.4" stroke="#b7bb3e" stroke-width="1" fill="none"/>
<path d="M465.4 476 V526.4 M467.4 476 V526.4" stroke="#b2b6c6" stroke-width="1" fill="none"/>
<path d="M469.6 476.4 H477.3 V526.2 H469.6 Z" stroke="#b7bb3e" stroke-width="0.6" fill="#a6aa48" fill-opacity="0.9"/>
<path d="M472.2 476.4 V526.2 M474.8 476.4 V526.2" stroke="#23273b" stroke-width="0.55" fill="none"/>
<rect x="478" y="481" width="15.6" height="19.0" stroke="#b7bb3e" stroke-width="1" fill="none"/>
<rect x="480" y="483.4" width="11.6" height="14.2" stroke="#b7bb3e" stroke-width="0.8" fill="none"/>
<rect x="478" y="501.8" width="15.6" height="20.0" stroke="#b7bb3e" stroke-width="1" fill="none"/>
<line x1="497.8" y1="479.2" x2="514.2" y2="495.4" stroke="#b7bb3e" stroke-width="1.7"/>
<path d="M514.2 495.4 C510 498.6 505 500.6 499 501.3 C505 502 510 503.8 514.2 507" stroke="#b7bb3e" stroke-width="1.1" fill="none"/>
<line x1="514.2" y1="507" x2="497.8" y2="524.2" stroke="#b7bb3e" stroke-width="1.7"/>
<line x1="410" y1="527.3" x2="495.6" y2="527.3" stroke="#858998" stroke-width="2.6" stroke-dasharray="0.8 0.8"/>
<path d="M410 526 H495.6 M410 528.7 H495.6" stroke="#b2b6c6" stroke-width="0.8" fill="none"/>
<path d="M501 527.4 H540.8" stroke="#b7bb3e" stroke-width="0.9" fill="none" stroke-dasharray="3 1.8"/>
<path d="M501 529.2 H540.8" stroke="#b7bb3e" stroke-width="0.9" fill="none" stroke-dasharray="3 1.8"/>
<path d="M495.6 529 V710.4 M498.3 529 V624.6 M498.3 627.4 V712.8" stroke="#b2b6c6" stroke-width="1" fill="none"/>
<path d="M423.8 530.6 C420.5 536 417.5 541 418.2 545 C419 547.8 424 547.4 429.2 547.4" stroke="#b2b6c6" stroke-width="0.8" fill="none"/>
<text x="428.6" y="542.3" font-size="5.2" textLength="24.4" lengthAdjust="spacingAndGlyphs">PARTIAL</text>
<text x="434.6" y="548.1" font-size="5.2" textLength="15.0" lengthAdjust="spacingAndGlyphs">TRUSS</text>
<text x="428.0" y="553.8" font-size="5.2" textLength="25.8" lengthAdjust="spacingAndGlyphs">SUPPORT</text>
<path d="M557.8 328.5 H583.6 M608.7 328.5 H647 M560.2 331.2 H583.6 M608.7 331.2 H647" stroke="#b2b6c6" stroke-width="1" fill="none"/>
<path d="M557.8 328.5 V361.8 M560.2 331.2 V361.8" stroke="#b2b6c6" stroke-width="1" fill="none"/>
<path d="M529.2 361.8 H560.2 M529.2 364.6 H557 L565.6 372.6" stroke="#b2b6c6" stroke-width="1" fill="none"/>
<line x1="531.4" y1="329.2" x2="550.2" y2="311.4" stroke="#b7bb3e" stroke-width="1.8"/>
<path d="M550.2 311.4 C554.5 316 557.4 322 557.8 328.5" stroke="#b7bb3e" stroke-width="1" fill="none"/>
<path d="M526.7 334 V359 M529.2 334 V359" stroke="#b7bb3e" stroke-width="0.9" fill="none" stroke-dasharray="2.6 1.6"/>
<rect x="562.7" y="331.5" width="11.9" height="20.3" stroke="#b2b6c6" stroke-width="1" fill="none"/>
<line x1="574.6" y1="332" x2="574.6" y2="350" stroke="#35adbd" stroke-width="1"/>
<path d="M576.4 331.2 V334.6 M574.6 351.8 H578.6 V355.2 L568 369.6 M562.7 355.2 H575 M562.7 355.2 V364 L566 367.4 M564.6 357 H571.8 L564.6 365.8 Z" stroke="#b2b6c6" stroke-width="0.9" fill="none"/>
<line x1="577.4" y1="334.6" x2="587.8" y2="344.2" stroke="#b7bb3e" stroke-width="1.8"/>
<path d="M587.8 344.2 C585.5 347.5 581.5 349.2 576.6 349.2" stroke="#b7bb3e" stroke-width="1" fill="none"/>
<line x1="583.8" y1="331.2" x2="601.2" y2="349.2" stroke="#b7bb3e" stroke-width="1.8"/>
<path d="M601.2 349.2 C605.4 344.6 608.2 338.6 608.7 331.4" stroke="#b7bb3e" stroke-width="1" fill="none"/>
<line x1="536.2" y1="365.6" x2="536.2" y2="426" stroke="#9fd8e2" stroke-width="1.5" stroke-dasharray="2.4 1.5"/>
<line x1="538" y1="365.6" x2="538" y2="426" stroke="#35adbd" stroke-width="1"/>
<path d="M543.6 431.6 H578 V399.6 L584 392" stroke="#35adbd" stroke-width="1" fill="none"/>
<line x1="543.6" y1="433.7" x2="584.5" y2="433.7" stroke="#b2b6c6" stroke-width="1.1" stroke-dasharray="2.8 1.6"/>
<line x1="578" y1="397.6" x2="578" y2="431.6" stroke="#b2b6c6" stroke-width="1.2" stroke-dasharray="2.4 1.6"/>
<path d="M530.6 429 H541 V439 Z" stroke="#b2b6c6" stroke-width="0.9" fill="none"/>
<path d="M565.6 372.6 V397.4" stroke="#b7bb3e" stroke-width="1.6" fill="none"/>
<path d="M565.6 397.4 C573 397 580 394.4 584.6 390" stroke="#b7bb3e" stroke-width="1.1" fill="none"/>
<path d="M584.6 390 V440 M587.4 390 V410.2" stroke="#b2b6c6" stroke-width="1" fill="none"/>
<path d="M587.4 410.2 H647 M587.4 413.4 H647 M587.4 413.4 V440" stroke="#b2b6c6" stroke-width="1" fill="none"/>
<rect x="629" y="331.8" width="16.6" height="50.8" stroke="#35adbd" stroke-width="1" fill="none"/>
<ellipse cx="635.8" cy="343.6" rx="4.5" ry="6.6" stroke="#35adbd" stroke-width="1"/>
<path d="M639.4 342.90000000000003 H641 V340.8 H643.8 V342.20000000000005 H642.6 V345.0 H643.8 V346.40000000000003 H641 V344.3 H639.4 Z" stroke="#35adbd" stroke-width="0.5" fill="#35adbd"/>
<ellipse cx="635.8" cy="371" rx="4.5" ry="6.6" stroke="#35adbd" stroke-width="1"/>
<path d="M639.4 370.3 H641 V368.2 H643.8 V369.6 H642.6 V372.4 H643.8 V373.8 H641 V371.7 H639.4 Z" stroke="#35adbd" stroke-width="0.5" fill="#35adbd"/>
<line x1="628" y1="384.6" x2="645.8" y2="384.6" stroke="#a6aa48" stroke-width="2.2"/>
<line x1="648.3" y1="390" x2="648.3" y2="406.4" stroke="#a6aa48" stroke-width="2.6"/>
<ellipse cx="630.6" cy="398.2" rx="6.2" ry="5" stroke="#35adbd" stroke-width="1"/>
<rect x="638.6" y="391.6" width="6" height="14" rx="1" stroke="#35adbd" stroke-width="1"/>
<path d="M588.8 411.2 L606.4 393.6 C611.5 398 614.8 404.5 615.4 411.6 M588.8 409.4 L604.6 393.8" stroke="#35adbd" stroke-width="1" fill="none"/>
<path d="M588.8 411.6 H627.4" stroke="#35adbd" stroke-width="1.2" fill="none"/>
<rect x="588.2" y="413.6" width="41.3" height="26.0" stroke="#b2b6c6" stroke-width="0.9" fill="none"/>
<path d="M588.2 413.6 L629.5 439.6 M629.5 413.6 L588.2 439.6" stroke="#b2b6c6" stroke-width="0.8" fill="none"/>
<rect x="629.5" y="413.6" width="16.9" height="26.0" stroke="#b2b6c6" stroke-width="0.9" fill="none"/>
<path d="M543.4 440 H647 M543.4 442.8 H562.6 M562.6 443.3 H646.6" stroke="#b2b6c6" stroke-width="1" fill="none"/>
<path d="M646.5 443.3 V525.6" stroke="#b2b6c6" stroke-width="1" fill="none"/>
<path d="M543.6 443.3 V495.5 H560 V489 H562.7 M560 443.3 V450 H562.7 V443.3 M562.7 489 V498 H543.4 M562.7 498 V509" stroke="#b2b6c6" stroke-width="1" fill="none"/>
<line x1="549.2" y1="443.6" x2="549.2" y2="495.4" stroke="#9fd8e2" stroke-width="1.5" stroke-dasharray="2.4 1.5"/>
<line x1="551" y1="443.6" x2="551" y2="495.4" stroke="#35adbd" stroke-width="1"/>
<line x1="561.8" y1="450" x2="576.5" y2="463.6" stroke="#b7bb3e" stroke-width="1.7"/>
<path d="M576.5 463.6 C573 466.6 568 468.9 562.8 470 C568 470.9 573 472.4 576.5 474.6" stroke="#b7bb3e" stroke-width="1.1" fill="none"/>
<line x1="576.5" y1="474.6" x2="561.8" y2="489" stroke="#b7bb3e" stroke-width="1.7"/>
<line x1="648.3" y1="461.8" x2="648.3" y2="507.3" stroke="#a6aa48" stroke-width="2.6"/>
<rect x="647.5" y="483.6" width="1.6" height="1.6" stroke="#dfe3ee" stroke-width="0.5"/>
<rect x="576.4" y="502.7" width="21.8" height="15.8" stroke="#b7bb3e" stroke-width="0.9" fill="none" stroke-dasharray="3 1.8"/>
<path d="M543.4 498 V526.4 M543.4 571.8 V578 M543.4 620 V624.6" stroke="#b2b6c6" stroke-width="1" fill="none"/>
<line x1="545.6" y1="526.2" x2="563.6" y2="509.4" stroke="#b7bb3e" stroke-width="1.8"/>
<path d="M563.6 509.4 C568.5 513.6 571.4 519.6 571.8 526.2" stroke="#b7bb3e" stroke-width="1" fill="none"/>
<path d="M571.8 526.4 H647 M571.8 529.2 H646.4" stroke="#b2b6c6" stroke-width="1" fill="none"/>
<path d="M541 530 V558 M543.4 530 V558" stroke="#b7bb3e" stroke-width="0.9" fill="none" stroke-dasharray="2.6 1.6"/>
<rect x="623.4" y="529.6" width="22.9" height="41.6" stroke="#35adbd" stroke-width="1" fill="none"/>
<path d="M625.3 567.6 V535.4 Q625.3 531.2 629.5 531.2 H641 Q645.2 531.2 645.2 535.4 V567.6 Q645.2 570 642.8 570 H627.7 Q625.3 570 625.3 567.6 Z" stroke="#35adbd" stroke-width="1" fill="none"/>
<path d="M626.7 567.4 V541 C626.7 536.5 628.5 534.1 633 534.1 H637.6 C642.2 534.1 644 536.5 644 541 V567.4" stroke="#35adbd" stroke-width="0.9" fill="none"/>
<line x1="648.3" y1="533.6" x2="648.3" y2="565.5" stroke="#a6aa48" stroke-width="2.6"/>
<ellipse cx="612.6" cy="554.8" rx="5.2" ry="6.5" stroke="#35adbd" stroke-width="1"/>
<rect x="605.6" y="563.8" width="14.4" height="5.8" stroke="#35adbd" stroke-width="1" fill="none"/>
<rect x="576.6" y="554.2" width="25.3" height="16.8" stroke="#35adbd" stroke-width="1" fill="none"/>
<ellipse cx="589.2" cy="560.4" rx="6.9" ry="4.5" stroke="#35adbd" stroke-width="1"/>
<path d="M586.4 568.6 L587.6 565.6 H588.4 V561.6 H590 V565.6 H590.8 L592 568.6 Z" stroke="#35adbd" stroke-width="0.6" fill="#35adbd"/>
<path d="M573.6 551.8 H576.4 V571.8 M573.6 551.8 V571.8" stroke="#b2b6c6" stroke-width="1" fill="none"/>
<line x1="576.6" y1="531" x2="590.2" y2="545.4" stroke="#b7bb3e" stroke-width="1.8"/>
<path d="M590.2 545.4 C587 549.6 582.6 552 577.6 552.6" stroke="#b7bb3e" stroke-width="1" fill="none"/>
<line x1="554.6" y1="548.8" x2="567.4" y2="561" stroke="#b7bb3e" stroke-width="1.8"/>
<path d="M554.6 548.8 C551.5 552 550 556 550 560.4" stroke="#b7bb3e" stroke-width="1" fill="none"/>
<path d="M543.4 558 H546.6 V560.4 H550" stroke="#b2b6c6" stroke-width="0.9" fill="none"/>
<rect x="543.6" y="562.8" width="30.0" height="2.2" stroke="#35adbd" stroke-width="0.9" fill="none"/>
<rect x="543.6" y="565" width="30.0" height="6.4" stroke="#b2b6c6" stroke-width="0.9" fill="none"/>
<path d="M543.4 571.8 H647 M543.4 574.6 H646.4" stroke="#b2b6c6" stroke-width="1" fill="none"/>
<path d="M646.5 574.6 V657.3" stroke="#b2b6c6" stroke-width="1" fill="none"/>
<line x1="542.2" y1="578.2" x2="557.4" y2="592.8" stroke="#b7bb3e" stroke-width="1.7"/>
<path d="M557.4 592.8 C554 595.8 549 598 543.8 599 C549 600 554 601.8 557.4 604.6" stroke="#b7bb3e" stroke-width="1.1" fill="none"/>
<line x1="557.4" y1="604.6" x2="542.2" y2="620" stroke="#b7bb3e" stroke-width="1.7"/>
<path d="M562.6 612.8 C556 613.6 548 611 544.4 613.4 C540.5 616 539 621 536.6 625.2" stroke="#b2b6c6" stroke-width="0.8" fill="none"/>
<text x="563.0" y="608.3" font-size="5.2" textLength="23.8" lengthAdjust="spacingAndGlyphs">PARTIAL</text>
<text x="568.0" y="614.1" font-size="5.2" textLength="14.6" lengthAdjust="spacingAndGlyphs">TRUSS</text>
<text x="562.0" y="619.8" font-size="5.2" textLength="26.0" lengthAdjust="spacingAndGlyphs">SUPPORT</text>
<path d="M543.4 624.6 H562.7 V630 H560.4 V627.4 H543.4 M560.4 650 V657.3 M562.7 650 V657.3 M560.4 650 H562.7" stroke="#b2b6c6" stroke-width="1" fill="none"/>
<line x1="549.2" y1="627.6" x2="549.2" y2="657" stroke="#9fd8e2" stroke-width="1.5" stroke-dasharray="2.4 1.5"/>
<line x1="551" y1="627.6" x2="551" y2="657" stroke="#35adbd" stroke-width="1"/>
<path d="M562.8 630.2 C569 630.6 575 632.8 578.4 636.4" stroke="#b7bb3e" stroke-width="1.1" fill="none"/>
<line x1="578.4" y1="636.4" x2="562.8" y2="650" stroke="#b7bb3e" stroke-width="1.7"/>
<path d="M598 641.8 C592 641.4 587 641.8 586.6 645 C586.2 649 588.4 653 589.4 657" stroke="#b2b6c6" stroke-width="0.8" fill="none"/>
<text x="598.6" y="643.7" font-size="5.2" textLength="29.6" lengthAdjust="spacingAndGlyphs">(2) 2x12 OR</text>
<text x="591.0" y="649.6" font-size="5.2" textLength="43.6" lengthAdjust="spacingAndGlyphs">(2) 1.75x9.25 LVL</text>
<path d="M543.4 657.3 H646.6 M498.3 660 H649.5" stroke="#b2b6c6" stroke-width="1" fill="none"/>
<line x1="570" y1="658.7" x2="619.6" y2="658.7" stroke="#a6aa48" stroke-width="2.2"/>
<rect x="568.7" y="657.4" width="2.6" height="2.6" fill="#f4f6fb" stroke="none"/>
<rect x="618.3" y="657.4" width="2.6" height="2.6" fill="#f4f6fb" stroke="none"/>
<rect x="594" y="657.9" width="1.6" height="1.6" stroke="#dfe3ee" stroke-width="0.5"/>
<text x="568.8" y="655.9" font-size="4.8" textLength="2.4" lengthAdjust="spacingAndGlyphs">3</text>
<text x="618.2" y="655.9" font-size="4.8" textLength="2.4" lengthAdjust="spacingAndGlyphs">3</text>
<line x1="506.6" y1="625.4" x2="525.6" y2="607.2" stroke="#b7bb3e" stroke-width="1.8"/>
<path d="M525.6 607.2 C529.6 612 531.6 618 531.8 625.4" stroke="#b7bb3e" stroke-width="1" fill="none"/>
<path d="M506.4 626.6 H532.4" stroke="#b7bb3e" stroke-width="1" fill="none"/>
<path d="M506.4 627.4 V635.6 H532.8 V627.4" stroke="#b7bb3e" stroke-width="0.9" fill="none" stroke-dasharray="3 1.8"/>
<line x1="498.3" y1="626" x2="506.4" y2="626" stroke="#858998" stroke-width="2.6" stroke-dasharray="0.8 0.8"/>
<line x1="532.6" y1="626" x2="541" y2="626" stroke="#858998" stroke-width="2.6" stroke-dasharray="0.8 0.8"/>
<path d="M498.3 624.6 H506.4 M498.3 627.4 H506.4 M532.6 624.6 H541 M532.6 627.4 H541" stroke="#b2b6c6" stroke-width="0.8" fill="none"/>
<path d="M534 626 L537.6 618 M536.4 626 L539.6 619" stroke="#b2b6c6" stroke-width="0.8" fill="none"/>
<line x1="390.5" y1="658.8" x2="543.4" y2="658.8" stroke="#858998" stroke-width="2.4"/>
<path d="M390.5 657.4 H543.4 M392.8 660.2 H541" stroke="#b2b6c6" stroke-width="0.7" fill="none"/>
<line x1="420" y1="658.8" x2="428" y2="658.8" stroke="#23273b" stroke-width="1"/>
<line x1="437" y1="658.8" x2="445" y2="658.8" stroke="#23273b" stroke-width="1"/>
<line x1="505" y1="658.8" x2="512" y2="658.8" stroke="#23273b" stroke-width="1"/>
<line x1="520" y1="658.8" x2="527" y2="658.8" stroke="#23273b" stroke-width="1"/>
<rect x="390.1" y="657.3" width="3" height="3" fill="#f4f6fb" stroke="none"/>
<rect x="495.5" y="657.3" width="3" height="3" fill="#f4f6fb" stroke="none"/>
<rect x="540.6" y="656.6" width="4" height="4" fill="#f4f6fb" stroke="none"/>
<text x="394.4" y="665.1" font-size="4.8" textLength="2.4" lengthAdjust="spacingAndGlyphs">3</text>
<text x="492.0" y="665.1" font-size="4.8" textLength="2.4" lengthAdjust="spacingAndGlyphs">3</text>
<text x="536.4" y="655.9" font-size="4.8" textLength="2.4" lengthAdjust="spacingAndGlyphs">2</text>
<text x="435.2" y="641.5" font-size="5.2" textLength="52.8" lengthAdjust="spacingAndGlyphs">GIRDER TRUSS OR</text>
<text x="438.6" y="647.4" font-size="5.2" textLength="47.0" lengthAdjust="spacingAndGlyphs">(2) 1.75x11.875 LVL</text>
<path d="M434.2 639.6 C425 639.6 421 643 418 648 C415.5 652 413.8 655 412 657.4" stroke="#b2b6c6" stroke-width="0.8" fill="none"/>
<path d="M489 639.6 C497 639.6 501 643 505 648 C509 652.6 512 655.4 515.6 657.2" stroke="#b2b6c6" stroke-width="0.8" fill="none"/>
<rect x="402.4" y="651.3" width="84.6" height="58.7" stroke="#b7bb3e" stroke-width="0.9" fill="none" stroke-dasharray="3 1.8" rx="2"/>
<text x="424.0" y="681.9" font-size="5.2" textLength="60.0" lengthAdjust="spacingAndGlyphs">2x6 CJ @ 16" O.C. OR</text>
<text x="436.4" y="687.8" font-size="5.2" textLength="35.2" lengthAdjust="spacingAndGlyphs">ROOF TRUSS</text>
<line x1="397.4" y1="682.8" x2="522.6" y2="682.8" stroke="#858998" stroke-width="0.9"/>
<path d="M400.8 681.9 L397 682.8 L400.8 683.7 Z M519.2 681.9 L523 682.8 L519.2 683.7 Z" stroke="#858998" stroke-width="0.6" fill="#858998"/>
<path d="M390.5 712.8 H498.7 M392.8 710.4 H398 M491.2 710.4 H495.6" stroke="#b2b6c6" stroke-width="1" fill="none"/>
<line x1="398.2" y1="711.6" x2="491" y2="711.6" stroke="#858998" stroke-width="2.2"/>
<line x1="432" y1="711.6" x2="440" y2="711.6" stroke="#23273b" stroke-width="1"/>
<line x1="446" y1="711.6" x2="456" y2="711.6" stroke="#23273b" stroke-width="1"/>
<path d="M398.2 709 H491 M398.2 709.4 V719 H491 V709.4" stroke="#b7bb3e" stroke-width="1.1" fill="none"/>
<path d="M398.2 712.8 L401 719 M491 712.8 L488.2 719" stroke="#b7bb3e" stroke-width="0.9" fill="none"/>
<rect x="399.1" y="710.1" width="3" height="3" fill="#f4f6fb" stroke="none"/>
<rect x="487.1" y="710.1" width="3" height="3" fill="#f4f6fb" stroke="none"/>
<text x="398.8" y="708.5" font-size="4.8" textLength="2.4" lengthAdjust="spacingAndGlyphs">2</text>
<text x="487.4" y="708.5" font-size="4.8" textLength="2.4" lengthAdjust="spacingAndGlyphs">2</text>
<text x="433.4" y="717.8" font-size="5.2" textLength="20.6" lengthAdjust="spacingAndGlyphs">(2) 2x10</text>
<path d="M393.8 713.6 C391.5 720 388.8 726 388.8 730 C388.8 733.4 391 733.7 396 733.7" stroke="#b2b6c6" stroke-width="0.8" fill="none"/>
<path d="M495.4 713.6 C498 720 501.8 726 501.8 730 C501.8 733.4 498.5 733.7 493 733.7" stroke="#b2b6c6" stroke-width="0.8" fill="none"/>
<text x="397.4" y="735.6" font-size="5.2" textLength="94.2" lengthAdjust="spacingAndGlyphs">SHEATH OUTER AND INTTER FACE</text>
<text x="390.2" y="741.1" font-size="5.2" textLength="108.6" lengthAdjust="spacingAndGlyphs">OF ENTIRE GARAGE ENTRY WALL WITH</text>
<text x="390.2" y="747.0" font-size="5.2" textLength="108.6" lengthAdjust="spacingAndGlyphs">MINIMUM 3/8" OSB OR CDX PLYWOOD.</text>
<text x="502.0" y="674.7" font-size="5.2" textLength="25.2" lengthAdjust="spacingAndGlyphs">SIMPSON</text>
<text x="501.6" y="680.8" font-size="5.2" textLength="26.0" lengthAdjust="spacingAndGlyphs">LUS 210-2</text>
<path d="M528 672.6 H531.4 L541.6 661.4 M531.4 672.6 C536 675 537.6 683 538.4 690 C539 694.5 540.4 697 542 699.6" stroke="#b2b6c6" stroke-width="0.8" fill="none"/>
<line x1="543.6" y1="660.2" x2="543.6" y2="702" stroke="#858998" stroke-width="2.4"/>
<path d="M542.2 660 V701.6 M545 660 V701.6" stroke="#b2b6c6" stroke-width="0.7" fill="none"/>
<line x1="649.5" y1="660" x2="649.5" y2="696" stroke="#35adbd" stroke-width="1.1"/>
<line x1="498.8" y1="703.2" x2="645" y2="703.2" stroke="#858998" stroke-width="2.4"/>
<path d="M498.8 701.8 H640 M498.8 704.6 H640" stroke="#b2b6c6" stroke-width="0.7" fill="none"/>
<line x1="527" y1="703.2" x2="535" y2="703.2" stroke="#23273b" stroke-width="1"/>
<line x1="553" y1="703.2" x2="560" y2="703.2" stroke="#23273b" stroke-width="1"/>
<line x1="596" y1="703.2" x2="603" y2="703.2" stroke="#23273b" stroke-width="1"/>
<line x1="612" y1="703.2" x2="619" y2="703.2" stroke="#23273b" stroke-width="1"/>
<rect x="538.8" y="696" width="10.4" height="10.6" stroke="#35adbd" stroke-width="1.8" fill="none"/>
<rect x="640.2" y="696" width="10.6" height="10.6" stroke="#35adbd" stroke-width="1.8" fill="none"/>
<rect x="540.6" y="697.8" width="6.8" height="7" fill="#858998" fill-opacity="0.55"/><rect x="642" y="697.8" width="6.8" height="7" fill="#858998" fill-opacity="0.45"/>
<text transform="translate(549.6 690.6) rotate(-90)" class="rot" font-size="5.2" textLength="20.6" lengthAdjust="spacingAndGlyphs">(2) 2x10</text>
<text x="592.6" y="701.4" font-size="5.2" textLength="20.4" lengthAdjust="spacingAndGlyphs">(2) 2x10</text>
<line x1="583.3" y1="666.4" x2="583.3" y2="697" stroke="#858998" stroke-width="0.9"/>
<path d="M582.4 694 L583.3 697.8 L584.2 694 Z" stroke="#858998" stroke-width="0.6" fill="#858998"/>
<path d="M583.3 681.6 L586.6 679.4" stroke="#858998" stroke-width="0.8" fill="none"/>
<text x="595.0" y="673.2" font-size="5.2" textLength="19.0" lengthAdjust="spacingAndGlyphs">2x6 CJ</text>
<text x="591.0" y="679.2" font-size="5.2" textLength="27.0" lengthAdjust="spacingAndGlyphs">@ 16" O.C.</text>
<text x="590.6" y="685.0" font-size="5.2" textLength="27.8" lengthAdjust="spacingAndGlyphs">OR MONO</text>
<text x="596.0" y="690.9" font-size="5.2" textLength="17.4" lengthAdjust="spacingAndGlyphs">TRUSS</text>
<text x="517.4" y="720.1" font-size="5.2" textLength="93.6" lengthAdjust="spacingAndGlyphs">MIN. 4x4 TRT'D POST (OR EQUIV.)</text>
<rect x="515.5" y="721.6" width="134.5" height="24.0" stroke="#b2b6c6" stroke-width="0.9" fill="none"/>
<text x="517.6" y="726.9" font-size="5.2" textLength="130.4" lengthAdjust="spacingAndGlyphs">ATTACH RAFTERS AT PORCH WITH HURRICANE</text>
<text x="517.6" y="732.6" font-size="5.2" textLength="114.4" lengthAdjust="spacingAndGlyphs">CONNECTORS (SIMPSON H2.5 OR EQUIV.)</text>
<text x="517.6" y="738.2" font-size="5.2" textLength="117.0" lengthAdjust="spacingAndGlyphs">ATTACH HEADER TO POST AND POST TO</text>
<text x="517.6" y="743.9" font-size="5.2" textLength="104.4" lengthAdjust="spacingAndGlyphs">BASE WITH POST CAP AND/OR BASE</text>
<path d="M650.8 707 C653 714 660.4 724 660.4 729.6 C660.4 733.8 656 734 650.2 734" stroke="#b2b6c6" stroke-width="0.8" fill="none"/>
<text x="741.0" y="713.6" font-size="11.2" textLength="148.0" lengthAdjust="spacingAndGlyphs" class="big">CEILING / STRUCTURAL PLAN</text>
<line x1="740.4" y1="715.7" x2="889.4" y2="715.7" stroke="#b2b6c6" stroke-width="0.9"/>
<text x="761.0" y="725.6" font-size="11.2" textLength="107.0" lengthAdjust="spacingAndGlyphs" class="big">ELEVAITON "A" &amp; "B"</text>
<line x1="760.6" y1="727.7" x2="868.4" y2="727.7" stroke="#b2b6c6" stroke-width="0.9"/>
<text x="758.0" y="734.9" font-size="5.4" style="fill:#35adbd;stroke:#35adbd" textLength="16.6" lengthAdjust="spacingAndGlyphs">SCALE:</text>
<line x1="779.6" y1="733.4" x2="838.4" y2="733.4" stroke="#35adbd" stroke-width="0.9" stroke-dasharray="0.9 1.5"/>
<text x="841.0" y="734.9" font-size="5.4" style="fill:#35adbd;stroke:#35adbd" textLength="30.0" lengthAdjust="spacingAndGlyphs">3/16" = 1'-0"</text>
<text x="765.6" y="745.9" font-size="5.2" textLength="16.0" lengthAdjust="spacingAndGlyphs">NOTES:</text>
<line x1="765.6" y1="746.6" x2="781.6" y2="746.6" stroke="#b2b6c6" stroke-width="0.7"/>
<text x="765.6" y="753.9" font-size="5.2" textLength="120.0" lengthAdjust="spacingAndGlyphs">1) SHADED WALLS DENOTE LOAD BEARING WALLS.</text>
<text x="765.6" y="761.5" font-size="5.2" textLength="4.4" lengthAdjust="spacingAndGlyphs">2)</text>
<rect x="773.2" y="758.2" width="2.6" height="2.6" fill="#f4f6fb"/>
<text x="779.0" y="761.5" font-size="5.2" textLength="56.0" lengthAdjust="spacingAndGlyphs">DENOTES SOLID STUDS.</text>
<text x="808.0" y="107.9" font-size="5.2" textLength="94.0" lengthAdjust="spacingAndGlyphs">MIN. 4x4 TRT'D POST (OR EQUIV.)</text>
<rect x="806.6" y="109.6" width="134.0" height="24.8" stroke="#b2b6c6" stroke-width="0.9" fill="none"/>
<text x="808.6" y="114.9" font-size="5.2" textLength="130.4" lengthAdjust="spacingAndGlyphs">ATTACH RAFTERS AT PORCH WITH HURRICANE</text>
<text x="808.6" y="120.9" font-size="5.2" textLength="114.4" lengthAdjust="spacingAndGlyphs">CONNECTORS (SIMPSON H2.5 OR EQUIV.)</text>
<text x="808.6" y="126.9" font-size="5.2" textLength="117.4" lengthAdjust="spacingAndGlyphs">ATTACH HEADER TO POST AND POST TO</text>
<text x="808.6" y="132.9" font-size="5.2" textLength="104.4" lengthAdjust="spacingAndGlyphs">BASE WITH POST CAP AND/OR BASE</text>
<path d="M940.6 122 C948 121.6 952 121.6 952 126 C952 132 948.4 138 947 144.4" stroke="#b2b6c6" stroke-width="0.8" fill="none"/>
<path d="M796.5 195 V146.5 H947.5 V212" stroke="#b7bb3e" stroke-width="3.2" fill="none"/>
<path d="M796.5 195.6 V146.5 H947.5 V212.6" stroke="#23273b" stroke-width="1.2" fill="none"/>
<rect x="795.2" y="145.2" width="2.6" height="2.6" fill="#23273b" stroke="#b7bb3e" stroke-width="0.8"/>
<rect x="832.3" y="145.2" width="2.6" height="2.6" fill="#23273b" stroke="#b7bb3e" stroke-width="0.8"/>
<rect x="869.7" y="145.2" width="2.6" height="2.6" fill="#23273b" stroke="#b7bb3e" stroke-width="0.8"/>
<rect x="907.7" y="145.2" width="2.6" height="2.6" fill="#23273b" stroke="#b7bb3e" stroke-width="0.8"/>
<rect x="946.2" y="145.2" width="2.6" height="2.6" fill="#23273b" stroke="#b7bb3e" stroke-width="0.8"/>
<rect x="795.2" y="167.3" width="2.6" height="2.6" fill="#23273b" stroke="#b7bb3e" stroke-width="0.8"/>
<rect x="946.2" y="176.7" width="2.6" height="2.6" fill="#23273b" stroke="#b7bb3e" stroke-width="0.8"/>
<rect x="946.2" y="208.7" width="2.6" height="2.6" fill="#23273b" stroke="#b7bb3e" stroke-width="0.8"/>
<text x="884.0" y="144.3" font-size="5.2" textLength="19.6" lengthAdjust="spacingAndGlyphs">(2) 2x8</text>
<line x1="796.8" y1="171" x2="814.2" y2="186" stroke="#b7bb3e" stroke-width="1.8"/>
<path d="M814.2 186 C810 190.4 803.6 193 796.8 193" stroke="#b7bb3e" stroke-width="1" fill="none"/>
<text x="875.6" y="169.9" font-size="5.2" textLength="18.8" lengthAdjust="spacingAndGlyphs">2x6 CJ</text>
<text x="871.6" y="175.9" font-size="5.2" textLength="26.8" lengthAdjust="spacingAndGlyphs">@ 16" O.C.</text>
<text x="871.0" y="181.9" font-size="5.2" textLength="28.0" lengthAdjust="spacingAndGlyphs">OR MONO</text>
<text x="876.6" y="187.9" font-size="5.2" textLength="17.0" lengthAdjust="spacingAndGlyphs">TRUSS</text>
<line x1="863.4" y1="164.4" x2="863.4" y2="194.6" stroke="#858998" stroke-width="0.9"/>
<path d="M862.5 167.6 L863.4 163.8 L864.3 167.6 Z" stroke="#858998" stroke-width="0.6" fill="#858998"/>
<path d="M863.4 179.4 L870 176.4" stroke="#858998" stroke-width="0.8" fill="none"/>
<path d="M744.4 212 H795 M798 212 H845 M744.4 214.4 H845 M744.4 212 V214.4 M847 214.4 H966.6 M849 212 H966.6" stroke="#b2b6c6" stroke-width="1" fill="none"/>
<path d="M845 212 V214.4 L846 230 L847 214.4 M964.6 214.4 L965.6 230.4 L966.6 214.4 V212" stroke="#b2b6c6" stroke-width="0.9" fill="none"/>
<path d="M756 212 V195 H798 V212" stroke="#b2b6c6" stroke-width="1" fill="none"/>
<path d="M759 213 V198 H795 V213" stroke="#b2b6c6" stroke-width="1" fill="none"/>
<line x1="759" y1="213.2" x2="795" y2="213.2" stroke="#858998" stroke-width="2.2"/>
<path d="M765 212.4 L769.4 200.6 H786.4 L790 212.4" stroke="#bd2f38" stroke-width="1.1" fill="none"/>
<path d="M756.2 215 V228.4 H798 V215" stroke="#bd2f38" stroke-width="1.1" fill="none"/>
<rect x="756.3" y="211.9" width="2.6" height="2.6" fill="#f4f6fb" stroke="none"/>
<rect x="795.3" y="211.9" width="2.6" height="2.6" fill="#f4f6fb" stroke="none"/>
<text x="756.8" y="219.3" font-size="4.8" textLength="2.4" lengthAdjust="spacingAndGlyphs">2</text>
<text x="794.8" y="219.3" font-size="4.8" textLength="2.4" lengthAdjust="spacingAndGlyphs">2</text>
<text x="767.0" y="219.3" font-size="5.2" textLength="20.6" lengthAdjust="spacingAndGlyphs">(2) 2x10</text>
<path d="M809 212.2 V203.4 H832.4 V212.2" stroke="#b7bb3e" stroke-width="0.9" fill="none" stroke-dasharray="3.2 2"/>
<path d="M809 213.4 C809.5 220 812.4 226 816.8 230.2" stroke="#b7bb3e" stroke-width="1.1" fill="none"/>
<line x1="816.8" y1="230.2" x2="832.6" y2="214.2" stroke="#b7bb3e" stroke-width="1.8"/>
<line x1="867.6" y1="213.2" x2="942.4" y2="213.2" stroke="#a6aa48" stroke-width="2.2"/>
<rect x="866.3" y="211.9" width="2.6" height="2.6" fill="#f4f6fb" stroke="none"/>
<rect x="891.1" y="211.9" width="2.6" height="2.6" fill="#f4f6fb" stroke="none"/>
<rect x="916.3" y="211.9" width="2.6" height="2.6" fill="#f4f6fb" stroke="none"/>
<rect x="941.1" y="211.9" width="2.6" height="2.6" fill="#f4f6fb" stroke="none"/>
<text x="895.0" y="211.3" font-size="5.2" textLength="20.6" lengthAdjust="spacingAndGlyphs">(2) 2x10</text>
<text x="866.2" y="219.3" font-size="4.8" textLength="2.4" lengthAdjust="spacingAndGlyphs">3</text>
<text x="941.2" y="219.3" font-size="4.8" textLength="2.4" lengthAdjust="spacingAndGlyphs">3</text>
<text x="887.6" y="219.3" font-size="4.8" textLength="9.4" lengthAdjust="spacingAndGlyphs">DSP</text>
<text x="912.8" y="219.3" font-size="4.8" textLength="9.4" lengthAdjust="spacingAndGlyphs">DSP</text>
<text x="803.6" y="252.5" font-size="11.4" textLength="137.4" lengthAdjust="spacingAndGlyphs" class="big">OPTIONAL SCREEN PORCH</text>
<line x1="803" y1="254.8" x2="941.4" y2="254.8" stroke="#b2b6c6" stroke-width="0.9"/>
</svg>
</body></html>
